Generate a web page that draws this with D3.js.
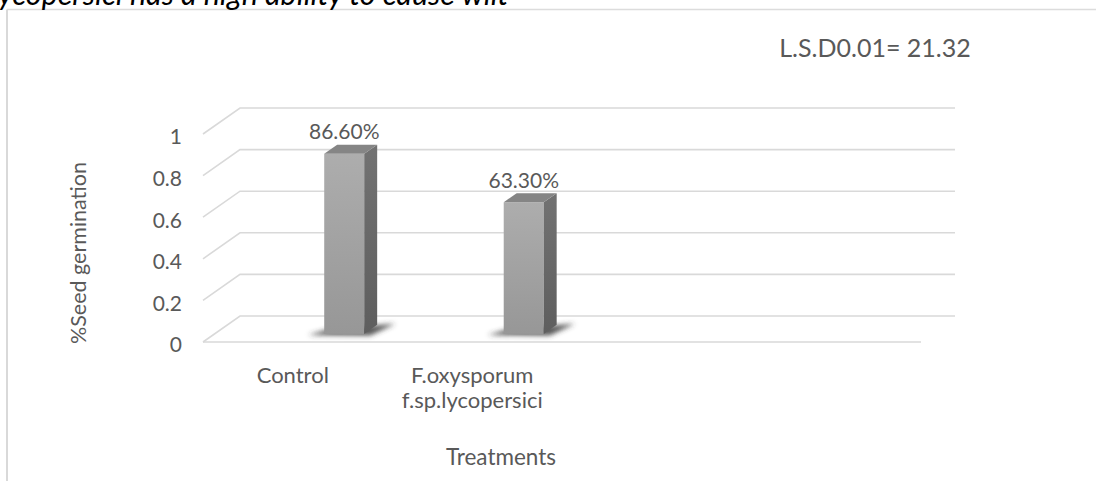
<!DOCTYPE html>
<html>
<head>
<meta charset="utf-8">
<script src="https://cdn.jsdelivr.net/npm/d3@7"></script>
<style>
  html, body { margin: 0; padding: 0; background: #fff; overflow: hidden; }
  svg { display: block; }
  text { font-family: Lato, "Open Sans", sans-serif; fill: #595959; }
</style>
</head>
<body>
<svg id="chart" width="1096" height="481"></svg>
<script>
// ---- data ----
const categories = ["Control", "F.oxysporum f.sp.lycopersici"];
const germination = [0.866, 0.633];
const yTicks = [0, 0.2, 0.4, 0.6, 0.8, 1];
const slotCount = 4;               // the category axis reserves four slots
const lsdText = "L.S.D0.01= 21.32";
const xAxisTitle = "Treatments";
const yAxisTitle = "%Seed germination";
const runningText = "ycopersici has a high ability to cause wilt";

// ---- geometry ----
const svg = d3.select("#chart");
const plot = { left: 203, right: 921, bottom: 342, top: 134 };
const depth = { dx: 37, dy: -26 };          // full depth of the 3-D box
const barDepth = { front: 0.31, back: 0.66 }; // bars sit inside the box depth
const barWidth = 40, barShift = 40;

const y = d3.scaleLinear().domain([0, 1]).range([plot.bottom, plot.top]);
const x = d3.scaleBand().domain(d3.range(slotCount)).range([plot.left, plot.right]);
const pct = d3.format(".2%");

const defs = svg.append("defs");
const gFront = defs.append("linearGradient").attr("id", "front").attr("x1", 0).attr("x2", 0).attr("y1", 0).attr("y2", 1);
gFront.append("stop").attr("offset", 0).attr("stop-color", "#adadad");
gFront.append("stop").attr("offset", 1).attr("stop-color", "#979797");
const gSide = defs.append("linearGradient").attr("id", "side").attr("x1", 0).attr("x2", 0).attr("y1", 0).attr("y2", 1);
gSide.append("stop").attr("offset", 0).attr("stop-color", "#727272");
gSide.append("stop").attr("offset", 1).attr("stop-color", "#5e5e5e");
defs.append("filter").attr("id", "soft").attr("x", "-50%").attr("y", "-200%").attr("width", "200%").attr("height", "500%")
  .append("feGaussianBlur").attr("stdDeviation", 2.6);

// ---- chart frame ----
svg.append("line").attr("x1", 7).attr("x2", 7).attr("y1", 9.5).attr("y2", 481)
  .attr("stroke", "#d9d9d9").attr("stroke-width", 2);
svg.append("line").attr("x1", 7).attr("x2", 1096).attr("y1", 9.5).attr("y2", 9.5)
  .attr("stroke", "#dcdcdc").attr("stroke-width", 1.3);

// running document text clipped by the top of the view
svg.append("text").attr("x", -2).attr("y", 4.5)
  .style("font-style", "italic").style("fill", "#000").style("font-size", "30.5px")
  .text(runningText);

// ---- walls and gridlines ----
const grid = svg.append("g").attr("fill", "none").attr("stroke", "#d9d9d9").attr("stroke-width", 1.6);
grid.selectAll("path.grid").data(yTicks).join("path").attr("class", "grid")
  .attr("d", v => {
    const p = d3.path();
    p.moveTo(plot.left, y(v));
    p.lineTo(plot.left + depth.dx, y(v) + depth.dy);
    p.lineTo(plot.right + depth.dx - 3, y(v) + depth.dy);
    return p.toString();
  });
// front edge of the floor
grid.append("line").attr("x1", plot.left).attr("x2", plot.right)
  .attr("y1", y(0)).attr("y2", y(0));

// ---- bars ----
const bars = categories.map((c, i) => {
  const cx = x(i) + x.bandwidth() / 2 + barShift;
  const x0 = cx - barWidth / 2 + barDepth.front * depth.dx;
  const yTop = y(germination[i]) + barDepth.front * depth.dy;
  const yBot = y(0) + barDepth.front * depth.dy;
  const ddx = (barDepth.back - barDepth.front) * depth.dx;
  const ddy = (barDepth.back - barDepth.front) * depth.dy;
  return { c, v: germination[i], x0, yTop, yBot, ddx, ddy };
});

// floor shadows
svg.append("g").attr("filter", "url(#soft)").selectAll("path").data(bars).join("path")
  .attr("fill", "#3a3a3a").attr("opacity", 0.85)
  .attr("d", b => {
    const p = d3.path();
    p.moveTo(b.x0 - 16, b.yBot + 1);
    p.lineTo(b.x0 + 6, b.yBot - 5);
    p.lineTo(b.x0 + barWidth + b.ddx + 18, b.yBot + b.ddy - 1);
    p.lineTo(b.x0 + barWidth + 6, b.yBot + 1.5);
    p.closePath();
    return p.toString();
  });

const barG = svg.append("g");
barG.selectAll("rect.front").data(bars).join("rect").attr("class", "front")
  .attr("x", b => b.x0).attr("y", b => b.yTop)
  .attr("width", barWidth).attr("height", b => b.yBot - b.yTop)
  .attr("fill", "url(#front)");
barG.selectAll("path.side").data(bars).join("path").attr("class", "side")
  .attr("fill", "url(#side)")
  .attr("d", b => `M${b.x0 + barWidth},${b.yTop}L${b.x0 + barWidth + b.ddx},${b.yTop + b.ddy}` +
                  `L${b.x0 + barWidth + b.ddx},${b.yBot + b.ddy}L${b.x0 + barWidth},${b.yBot}Z`);
barG.selectAll("path.top").data(bars).join("path").attr("class", "top")
  .attr("fill", "#858585")
  .attr("d", b => `M${b.x0},${b.yTop}L${b.x0 + b.ddx},${b.yTop + b.ddy}` +
                  `L${b.x0 + barWidth + b.ddx},${b.yTop + b.ddy}L${b.x0 + barWidth},${b.yTop}Z`);

// value labels
svg.append("g").selectAll("text").data(bars).join("text")
  .attr("x", b => b.x0 + barWidth / 2).attr("y", b => b.yTop - 22)
  .attr("dy", "0.35em").attr("text-anchor", "middle").style("font-size", "21px")
  .text(b => pct(b.v));

// ---- value axis ----
svg.append("g").selectAll("text").data(yTicks).join("text")
  .attr("x", 182).attr("y", v => y(v) + 3).attr("dy", "0.35em")
  .attr("text-anchor", "end").style("font-size", "21px")
  .text(v => d3.format("~g")(v));

svg.append("text")
  .attr("transform", "translate(78,253) rotate(-90)")
  .attr("text-anchor", "middle").attr("dy", "0.35em").style("font-size", "21.5px")
  .text(yAxisTitle);

// ---- category axis ----
const catG = svg.append("g").selectAll("text").data(categories).join("text")
  .attr("text-anchor", "middle").style("font-size", "22px")
  .attr("transform", (c, i) => `translate(${x(i) + x.bandwidth() / 2},375)`);
catG.selectAll("tspan").data(c => c.split(" ")).join("tspan")
  .attr("x", 0).attr("y", (d, j) => j * 25).attr("dy", "0.35em").text(d => d);

svg.append("text").attr("x", 501).attr("y", 457).attr("dy", "0.35em")
  .attr("text-anchor", "middle").style("font-size", "22.5px")
  .text(xAxisTitle);

// significance note
svg.append("text").attr("x", 875).attr("y", 48).attr("dy", "0.35em")
  .attr("text-anchor", "middle").style("font-size", "25px")
  .text(lsdText);
</script>
</body>
</html>
